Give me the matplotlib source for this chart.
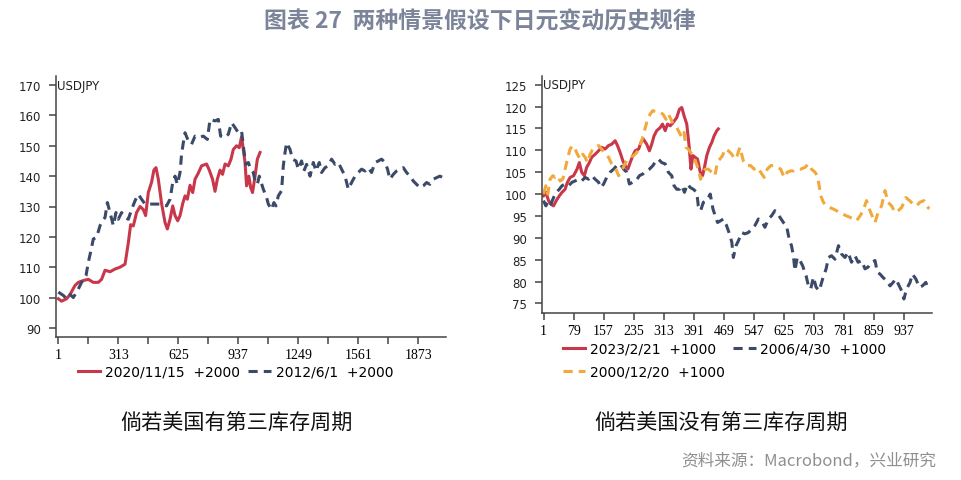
import numpy as np
import matplotlib
matplotlib.use("Agg")
import matplotlib.pyplot as plt

plt.rcParams['font.family'] = ['DejaVu Sans', 'Noto Sans CJK SC']

# ---------------- data ----------------
# left panel: day index since start, USDJPY rebased to 100
left_red_day = [1, 18, 44, 62, 88, 105, 131, 157, 183, 209, 226, 244, 270, 296, 322, 348,
                365, 377, 391, 408, 426, 443, 455, 469, 486, 498, 509, 521, 538, 556, 568,
                582, 596, 608, 622, 634, 648, 660, 672, 686, 700, 712, 729, 746, 772, 786,
                803, 816, 828, 842, 855, 868, 885, 899, 911, 928, 942, 954, 963, 972, 980,
                992, 1001, 1011, 1024, 1036, 1050]
left_red_val = [99.6, 98.8, 99.6, 101, 104, 105, 105.6, 106, 105, 105, 106, 109, 108.5, 109.4,
                110, 111, 118, 124, 123.6, 128, 130, 129, 127, 134.6, 138, 142, 142.8, 139,
                131, 124.7, 122.6, 125.8, 130.2, 127, 125.3, 127, 131, 133.5, 132.4, 137,
                134.6, 139, 141, 143.4, 144, 142, 139, 135, 139, 142, 140.6, 144, 143.4,
                145.6, 148.8, 150, 149.4, 153, 148.8, 144.5, 136.8, 140, 136.3, 134.6, 140,
                145.6, 147.8]

left_navy_day = [1, 27, 44, 62, 79, 105, 122, 145, 157, 169, 183, 200, 218, 231, 244, 256, 270,
                 287, 301, 313, 330, 348, 365, 382, 400, 417, 434, 452, 478, 512, 538, 564,
                 582, 596, 608, 620, 634, 642, 651, 660, 677, 694, 712, 734, 755, 776, 790,
                 816, 833, 845, 868, 885, 902, 920, 937, 954, 963, 975, 989, 1001, 1015,
                 1024, 1036, 1046, 1067, 1084, 1093, 1110, 1122, 1133, 1145, 1162, 1171,
                 1180, 1188, 1206, 1219, 1237, 1249, 1266, 1278, 1292, 1310, 1327, 1341,
                 1358, 1370, 1388, 1405, 1422, 1440, 1457, 1474, 1492, 1509, 1526, 1544,
                 1561, 1578, 1596, 1613, 1630, 1648, 1665, 1682, 1700, 1713, 1725, 1743,
                 1760, 1777, 1795, 1812, 1829, 1847, 1864, 1881, 1899, 1916, 1933, 1951,
                 1968, 1985, 2003]
left_navy_val = [101.8, 100.7, 99.6, 101, 100, 102.8, 105, 107.2, 111.6, 115, 119.3, 119.8,
                 123.7, 125.3, 126.4, 131.3, 128, 123.7, 128, 125.8, 128, 126.4, 125.8, 129,
                 131.9, 134, 132.4, 130.8, 130.8, 130.8, 130.8, 130.2, 132.4, 137.9, 140,
                 137.3, 141.2, 147.2, 151, 154.3, 151.6, 150.5, 153.2, 152.7, 153.2, 152.1,
                 158.7, 158.2, 158.7, 153.2, 152.7, 153.8, 157.6, 156, 154.3, 154.9, 150,
                 143.9, 144.5, 142.3, 141.2, 138.4, 137.3, 140, 135.7, 133, 130.8, 129,
                 131.3, 130.2, 133.5, 135.2, 143.4, 147.8, 151, 148.8, 145.6, 145, 142.3,
                 145, 141.7, 143.9, 140, 144.5, 141.7, 144.5, 141.2, 142.8, 143.4, 145.6,
                 143.9, 144.5, 142.3, 140, 135.7, 137.9, 140, 141.2, 142.3, 141.7, 142.8,
                 141.2, 144.5, 145, 145.6, 144.5, 142.3, 139, 140.6, 141.7, 142.3, 142.8,
                 141.2, 140, 138.4, 137.3, 136.2, 136.8, 137.9, 137.3, 139, 139.5, 140,
                 139.5]

# right panel
right_red_day = [1, 7, 14, 20, 27, 34, 42, 49, 57, 63, 70, 79, 88, 94, 100, 107, 113, 120, 126,
                 135, 144, 152, 161, 170, 178, 187, 193, 200, 207, 213, 220, 226, 233, 239,
                 248, 254, 260, 269, 276, 282, 288, 295, 304, 310, 317, 323, 330, 338, 347,
                 354, 360, 366, 373, 379, 384, 389, 395, 401, 408, 414, 419, 425, 432, 438,
                 444, 451, 455]
right_red_val = [99.6, 100.4, 98.5, 97.7, 97.3, 98.5, 99.6, 100.4, 101.1, 102.7, 103.8, 104.2,
                 105.7, 107.2, 105, 104.2, 106.1, 107.2, 108.4, 109.1, 109.9, 110.7, 110.3,
                 111.1, 111.4, 112.2, 111.1, 109.5, 107.6, 106.5, 105.7, 107.2, 108.8, 109.9,
                 110.3, 111.8, 112.6, 111.4, 109.9, 111.4, 113.3, 114.5, 115.2, 116, 114.5,
                 116, 115.6, 116.4, 117.5, 119.4, 119.8, 117.9, 116, 111.1, 105.7, 108.8,
                 108.4, 108, 105, 104.2, 106.1, 108.8, 110.7, 111.8, 113.3, 114.5, 114.9]

right_navy_day = [1, 7, 14, 20, 27, 34, 42, 49, 57, 66, 75, 83, 92, 100, 109, 118, 126, 135,
                  144, 150, 157, 165, 174, 183, 191, 200, 209, 217, 224, 233, 241, 250, 259,
                  267, 276, 285, 293, 299, 308, 317, 325, 334, 340, 347, 354, 360, 367, 375,
                  382, 390, 399, 403, 409, 416, 425, 434, 441, 447, 453, 461, 468, 475, 484,
                  490, 494, 501, 507, 516, 524, 533, 542, 550, 559, 567, 576, 585, 593, 602,
                  608, 615, 624, 632, 639, 645, 650, 654, 660, 667, 674, 683, 689, 695, 702,
                  709, 717, 726, 735, 741, 749, 758, 767, 775, 784, 792, 801, 810, 818, 827,
                  836, 844, 853, 862, 868, 875, 883, 892, 901, 909, 916, 925, 931, 937, 944,
                  953, 959, 968, 977, 985, 994, 1000]
right_navy_val = [98.5, 97.3, 98.5, 97.7, 99.2, 100.4, 101.1, 101.9, 102.3, 101.9, 102.7, 103,
                  103.4, 103, 103.8, 103.4, 104.2, 103.4, 102.7, 101.5, 102.3, 103.8, 105,
                  105.7, 106.5, 106.9, 105.7, 105, 102.3, 102.7, 103, 104.2, 104.6, 105.3,
                  105.7, 106.5, 107.6, 108, 107.2, 106.9, 105, 104.2, 101.9, 101.1, 101.1,
                  101.9, 100.4, 102.3, 101.5, 101.1, 100.4, 97.3, 96.2, 98.1, 98.5, 100, 96.6,
                  95, 93.5, 93.9, 94.3, 93.1, 90.9, 89, 85.5, 88.2, 89.3, 91.2, 90.9, 91.2,
                  92, 92.8, 94.3, 93.9, 92.4, 94.3, 95, 96.2, 95.8, 94.7, 93.5, 92.8, 89.7,
                  88.2, 85.9, 82.5, 85.5, 84.8, 83.6, 81.3, 79, 78.3, 81, 78.7, 77.9, 80.6,
                  82.9, 85.5, 85.9, 85.1, 88.2, 86.3, 85.5, 86.7, 84.4, 85.9, 84.4, 84.8,
                  82.9, 83.3, 84.4, 84.8, 82.1, 81.7, 80.9, 80.2, 79, 79.8, 80.6, 79, 77.9,
                  76, 78.3, 79.8, 81.7, 80.6, 78.7, 79, 79.8, 78.3]

right_orange_day = [1, 7, 12, 18, 25, 31, 37, 44, 51, 57, 63, 70, 77, 83, 89, 96, 103, 109, 115,
                    122, 129, 135, 144, 152, 161, 170, 178, 187, 196, 204, 210, 217, 226, 235,
                    243, 250, 256, 262, 269, 278, 285, 293, 302, 311, 319, 325, 332, 338, 347,
                    356, 360, 366, 371, 377, 383, 390, 397, 403, 409, 414, 421, 429, 438, 446,
                    453, 459, 466, 472, 481, 490, 497, 504, 511, 520, 529, 539, 548, 556, 565,
                    574, 582, 591, 600, 608, 617, 626, 634, 643, 651, 660, 669, 680, 689, 697,
                    706, 712, 717, 721, 728, 736, 745, 753, 762, 770, 779, 788, 797, 805, 814,
                    823, 831, 840, 847, 856, 862, 870, 879, 888, 896, 905, 914, 922, 931, 942,
                    952, 961, 970, 978, 989, 996, 1003]
right_orange_val = [100, 101.9, 100, 103.4, 104.2, 103.8, 104.2, 103, 103.4, 105.7, 108, 110.3,
                    111.1, 110.3, 109.1, 108, 109.1, 108.4, 107.2, 109.1, 110.3, 110.7, 111.1,
                    110.3, 109.1, 108.4, 106.9, 106.1, 104.2, 105.3, 106.5, 107.6, 108.4,
                    108.8, 109.5, 110.7, 112.2, 114.1, 116.4, 118.3, 119.1, 118.7, 118.7,
                    118.3, 117.1, 118.3, 117.1, 116, 115.2, 113.7, 113, 114.1, 110.7, 110.3,
                    109.5, 108.8, 107.2, 105.7, 103.4, 105, 105.7, 105.7, 105, 104.2, 107.4,
                    108, 108.8, 110.3, 109.9, 109.1, 108, 108.8, 110.7, 107.6, 106.5, 106.5,
                    105.7, 106.1, 105, 103.8, 105.7, 106.5, 106.5, 106.1, 105.7, 103.8, 105,
                    105.3, 105.3, 105.7, 105.7, 106.1, 106.9, 105.7, 105, 104.2, 101.9, 99.6,
                    98.1, 97.3, 96.9, 96.6, 96.2, 95.8, 95.4, 95, 94.7, 94.3, 93.9, 95, 96.2,
                    98.5, 96.6, 94.7, 93.5, 95.8, 97.3, 100.8, 98.1, 97.3, 95.8, 96.2, 96.9,
                    99.2, 98.5, 97.7, 97.3, 98.1, 98.5, 97.3, 96.6]

left_labels = ['2020/11/15  +2000', '2012/6/1  +2000']
right_labels = ['2023/2/21  +1000', '2006/4/30  +1000', '2000/12/20  +1000']

left_xticks = np.arange(1, 2017, 156)
right_xticks = np.arange(1, 1010, 78)

# ---------------- style ----------------
RED = '#c9374b'
NAVY = '#3c4a6a'
ORANGE = '#f0a93a'
SPINE = '#444444'
DASH = (0, (3, 2))
CJK = ['Noto Sans CJK SC', 'DejaVu Sans']

fig = plt.figure(figsize=(9.61, 4.81), dpi=100)
W, H = 961, 481
ax1 = fig.add_axes([56 / W, 1 - 338 / H, (446 - 56) / W, (338 - 77) / H])
ax2 = fig.add_axes([542 / W, 1 - 314 / H, (932 - 542) / W, (314 - 77) / H])


def style_axis(ax, top_value):
    for s in ['top', 'right']:
        ax.spines[s].set_visible(False)
    for s in ['left', 'bottom']:
        ax.spines[s].set_color(SPINE)
        ax.spines[s].set_linewidth(1.1)
    ax.tick_params(axis='both', direction='out', length=5, width=1.1, color=SPINE)
    ax.tick_params(axis='y', labelsize=8.5, pad=6, labelcolor='#222222')
    ax.tick_params(axis='x', pad=3)
    ax.text(0.003, top_value, 'USDJPY', transform=ax.get_yaxis_transform(), fontsize=8.5,
            va='center', ha='left', color='#222222')


# left panel
l1, = ax1.plot(left_red_day, left_red_val, color=RED, lw=2.2, solid_joinstyle='round')
l2, = ax1.plot(left_navy_day, left_navy_val, color=NAVY, lw=2.2, linestyle=DASH)
ax1.set_xlim(-11, 2017)
ax1.set_ylim(87, 173)
ax1.set_yticks(np.arange(90, 171, 10))
ax1.set_xticks(left_xticks)
ax1.set_xticklabels([str(t) if i % 2 == 0 else '' for i, t in enumerate(left_xticks)],
                    fontfamily='Liberation Serif', fontsize=10)
style_axis(ax1, 170)
ax1.legend([l1, l2], left_labels, loc='center left',
           bbox_to_anchor=(78 / W, 1 - 373 / H), bbox_transform=fig.transFigure,
           ncol=2, frameon=False, borderpad=0, borderaxespad=0, fontsize=10,
           handlelength=1.6, handletextpad=0.35, columnspacing=0.6)

# right panel
r1, = ax2.plot(right_red_day, right_red_val, color=RED, lw=2.2, solid_joinstyle='round')
r2, = ax2.plot(right_navy_day, right_navy_val, color=NAVY, lw=2.2, linestyle=DASH)
r3, = ax2.plot(right_orange_day, right_orange_val, color=ORANGE, lw=2.2, linestyle=DASH)
ax2.set_xlim(-3, 1010)
ax2.set_ylim(72.8, 127)
ax2.set_yticks(np.arange(75, 126, 5))
ax2.set_xticks(right_xticks)
ax2.set_xticklabels([str(t) for t in right_xticks], fontfamily='Liberation Serif', fontsize=10)
style_axis(ax2, 125)
ax2.legend([r1, r3, r2], [right_labels[0], right_labels[2], right_labels[1]],
           loc='center left', bbox_to_anchor=(563 / W, 1 - 361 / H),
           bbox_transform=fig.transFigure, ncol=2, frameon=False, borderpad=0,
           borderaxespad=0, fontsize=10, handlelength=1.6, handletextpad=0.35,
           columnspacing=0.6, labelspacing=0.65)

# titles and notes
fig.text(480 / W, 1 - 22 / H, '图表 27  两种情景假设下日元变动历史规律', ha='center', va='center',
         fontsize=16.5, fontweight='bold', color='#7b8498', family=CJK)
fig.text(236 / W, 1 - 423 / H, '倘若美国有第三库存周期', ha='center', va='center',
         fontsize=15.2, color='#111111', family=CJK)
fig.text(721 / W, 1 - 423 / H, '倘若美国没有第三库存周期', ha='center', va='center',
         fontsize=15.2, color='#111111', family=CJK)
fig.text(936 / W, 1 - 461 / H, '资料来源：Macrobond，兴业研究', ha='right', va='center',
         fontsize=12, color='#8f8f8f', family=CJK)

fig.savefig('out.png', dpi=100)
